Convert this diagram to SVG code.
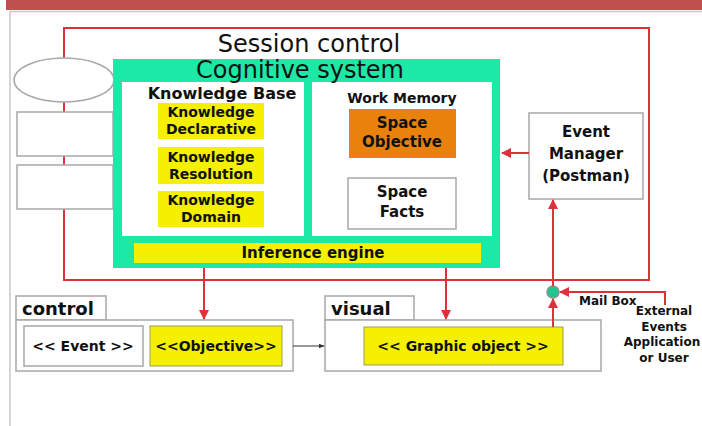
<svg xmlns="http://www.w3.org/2000/svg" width="702" height="426" viewBox="0 0 702 426">
<defs>
<marker id="ar" viewBox="0 0 10 10" refX="9" refY="5" markerWidth="10" markerHeight="10" markerUnits="userSpaceOnUse" orient="auto">
<path d="M0,0 L10,5 L0,10 z" fill="#e0303c"/>
</marker>
<marker id="ag" viewBox="0 0 10 10" refX="9" refY="5" markerWidth="6" markerHeight="6" markerUnits="userSpaceOnUse" orient="auto">
<path d="M0,1 L10,5 L0,9 z" fill="#333"/>
</marker>
<style>
text{font-family:"DejaVu Sans","Liberation Sans",sans-serif;fill:#111;}
.b{font-weight:bold;}
.c{text-anchor:middle;}
.gb{fill:#fff;stroke:#a8a8a8;stroke-width:1.5;}
.yel{fill:#f5f000;}
.red{stroke:#e0303c;stroke-width:2;fill:none;}
.t14{font-size:14px;font-weight:bold;text-anchor:middle;}
</style>
</defs>
<rect width="702" height="426" fill="#fff"/>
<rect x="6" y="0" width="696" height="10" fill="#c0504d"/>
<path d="M10,11 V426 M10,11.5 H702" stroke="#c8c8c8" stroke-width="1.5" fill="none"/>

<g id="session">
<rect x="64" y="28" width="585" height="252" class="red"/>
<text x="309" y="52" font-size="24" class="c">Session control</text>
</g>

<g id="left-shapes">
<ellipse cx="64" cy="80" rx="50" ry="22" class="gb"/>
<rect x="17" y="112" width="96" height="44" class="gb"/>
<rect x="17" y="165" width="96" height="44" class="gb"/>
</g>

<g id="cognitive">
<rect x="113" y="59" width="387" height="209" fill="#1de9a6"/>
</g>

<g id="knowledge-base">
<rect x="122" y="82" width="182" height="154" fill="#fff"/>
<text x="222" y="99" font-size="16" class="b c">Knowledge Base</text>
</g>
<g id="work-memory">
<rect x="312" y="82" width="180" height="154" fill="#fff"/>
<text x="402" y="103" font-size="14" class="b c">Work Memory</text>
</g>
<g id="cognitive-label">
<text x="300" y="78" font-size="24" class="c">Cognitive system</text>
</g>
<g id="k-declarative">
<rect x="158" y="103" width="106" height="36" class="yel"/>
<text x="211" y="117" class="t14">Knowledge</text>
<text x="211" y="134" class="t14">Declarative</text>
</g>
<g id="k-resolution">
<rect x="158" y="147" width="106" height="37" class="yel"/>
<text x="211" y="162" class="t14">Knowledge</text>
<text x="211" y="179" class="t14">Resolution</text>
</g>
<g id="k-domain">
<rect x="158" y="191" width="106" height="36" class="yel"/>
<text x="211" y="205" class="t14">Knowledge</text>
<text x="211" y="222" class="t14">Domain</text>
</g>

<g id="space-objective">
<rect x="349" y="109" width="107" height="49" fill="#e8820c"/>
<text x="402" y="128" font-size="15" class="b c">Space</text>
<text x="402" y="147" font-size="15" class="b c">Objective</text>
</g>
<g id="space-facts">
<rect x="348" y="178" width="108" height="51" class="gb"/>
<text x="402" y="197" font-size="15" class="b c">Space</text>
<text x="402" y="217" font-size="15" class="b c">Facts</text>
</g>

<g id="inference-engine">
<rect x="134" y="243" width="347" height="20" class="yel"/>
<text x="313" y="258" font-size="15" class="b c">Inference engine</text>
</g>

<g id="event-manager">
<rect x="529" y="113" width="114" height="86" class="gb"/>
<text x="586" y="137" font-size="15" class="b c">Event</text>
<text x="586" y="159" font-size="15" class="b c">Manager</text>
<text x="586" y="181" font-size="15" class="b c">(Postman)</text>
</g>

<g id="control">
<rect x="16" y="296" width="90" height="24" class="gb"/>
<rect x="16" y="320" width="277" height="51" class="gb"/>
<text x="22" y="315" font-size="18" class="b">control</text>
<rect x="24" y="326" width="119" height="40" class="gb"/>
<text x="83" y="351" class="t14">&lt;&lt; Event &gt;&gt;</text>
<rect x="150" y="326" width="132" height="40" fill="#f5f000" stroke="#9a9a60" stroke-width="1"/>
<text x="216" y="351" class="t14">&lt;&lt;Objective&gt;&gt;</text>
</g>

<g id="visual">
<rect x="325" y="296" width="89" height="24" class="gb"/>
<rect x="325" y="320" width="276" height="51" class="gb"/>
<text x="331" y="315" font-size="18" class="b">visual</text>
<rect x="364" y="327" width="199" height="38" fill="#f5f000" stroke="#9a9a60" stroke-width="1"/>
<text x="463" y="351" class="t14">&lt;&lt; Graphic object &gt;&gt;</text>
</g>

<g id="mailbox">
<circle cx="553" cy="292" r="6" fill="#1dc890" stroke="#909090" stroke-width="1.5"/>
<text x="579" y="305" font-size="12" class="b">Mail Box</text>
</g>

<g id="external">
<text x="664" y="315" font-size="12" class="b c">External</text>
<text x="664" y="331" font-size="12" class="b c">Events</text>
<text x="662" y="346" font-size="12" class="b c">Application</text>
<text x="664" y="362" font-size="12" class="b c">or User</text>
</g>

<g id="connectors">
<line x1="529" y1="153" x2="502" y2="153" class="red" marker-end="url(#ar)"/>
<line x1="553" y1="286" x2="553" y2="200" class="red" marker-end="url(#ar)"/>
<line x1="553" y1="327" x2="553" y2="299" class="red" marker-end="url(#ar)"/>
<polyline points="665,305 665,292 560,292" class="red" marker-end="url(#ar)"/>
<line x1="204" y1="268" x2="204" y2="319" class="red" marker-end="url(#ar)"/>
<line x1="446" y1="268" x2="446" y2="319" class="red" marker-end="url(#ar)"/>
<line x1="293" y1="346" x2="324" y2="346" stroke="#333" stroke-width="1" marker-end="url(#ag)"/>
</g>
</svg>
